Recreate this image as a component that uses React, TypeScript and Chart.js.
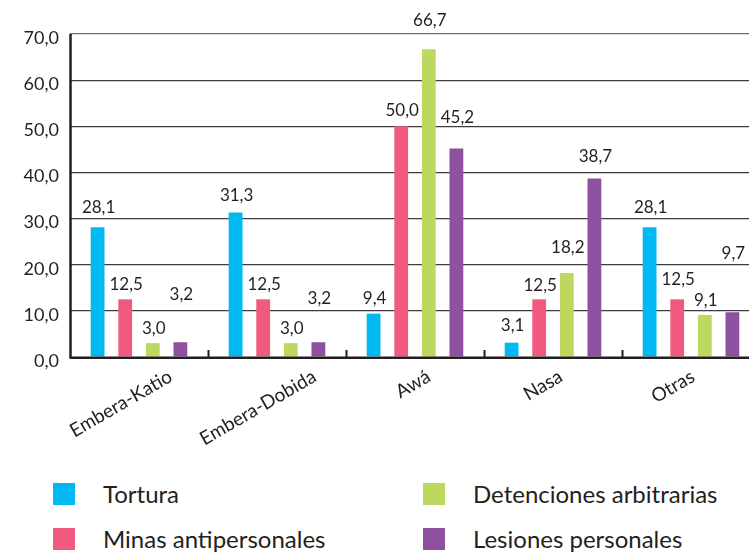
import React, { useEffect, useRef } from "react";
import { Chart, registerables } from "chart.js";

Chart.register(...registerables);

const categories = ["Embera-Katio", "Embera-Dobida", "Awá", "Nasa", "Otras"];
const tortura = [28.1, 31.3, 9.4, 3.1, 28.1];
const minas = [12.5, 12.5, 50.0, 12.5, 12.5];
const detenciones = [3.0, 3.0, 66.7, 18.2, 9.1];
const lesiones = [3.2, 3.2, 45.2, 38.7, 9.7];
const seriesNames = ["Tortura", "Minas antipersonales", "Detenciones arbitrarias", "Lesiones personales"];
const seriesColors = ["#00b9f1", "#f05a7e", "#bdd85f", "#8d519f"];
const yMin = 0;
const yMax = 70;
const yStep = 10;

// label placement tweaks (pixels), kept apart from the data
const LABEL_LIFT = [
  [5, 3, 1, 3, 5],
  [0, 0, 1, -1, 5],
  [0, 0, 14, 11, 0],
  [33, 29, 16, 7, 44],
];
const X_LABEL_SHIFT = [-18, -19, -2, -10, -18];

const TEXT = "#231f20";
const FONT = "Lato, 'Open Sans', sans-serif";

const fmt = (v: number) => v.toFixed(1).replace(".", ",");

const decorPlugin = {
  id: "decor",
  afterDatasetsDraw(chart: any) {
    const { ctx, chartArea } = chart;
    const { left, right, top, bottom } = chartArea;
    ctx.save();
    // data labels
    ctx.fillStyle = TEXT;
    ctx.font = `17px ${FONT}`;
    ctx.textAlign = "center";
    ctx.textBaseline = "alphabetic";
    chart.data.datasets.forEach((ds: any, di: number) => {
      const meta = chart.getDatasetMeta(di);
      meta.data.forEach((bar: any, i: number) => {
        const lift = (LABEL_LIFT[di] && LABEL_LIFT[di][i]) || 0;
        ctx.fillText(fmt(ds.data[i]), bar.x + 1, bar.y - 9 - lift);
      });
    });
    // axes
    ctx.strokeStyle = TEXT;
    ctx.lineWidth = 2.5;
    ctx.beginPath();
    ctx.moveTo(left + 0.5, top);
    ctx.lineTo(left + 0.5, bottom + 1.5);
    ctx.moveTo(left, bottom + 0.8);
    ctx.lineTo(right, bottom + 0.8);
    ctx.stroke();
    // category boundary marks
    const n = categories.length;
    const cw = (right - left) / n;
    ctx.lineWidth = 2;
    ctx.beginPath();
    for (let i = 1; i <= n; i++) {
      const x = Math.round(left + i * cw) + 0.5;
      ctx.moveTo(x, bottom);
      ctx.lineTo(x, bottom - 7);
    }
    ctx.stroke();
    // category labels, rotated
    ctx.font = `19px ${FONT}`;
    ctx.textAlign = "center";
    ctx.textBaseline = "middle";
    const ang = (30 * Math.PI) / 180;
    categories.forEach((c, i) => {
      const L = ctx.measureText(c).width;
      const cx = left + (i + 0.5) * cw + (X_LABEL_SHIFT[i] || 0);
      const cy = bottom + 12 + (L / 2) * Math.sin(ang) + 7 * Math.cos(ang);
      ctx.save();
      ctx.translate(cx, cy);
      ctx.rotate(-ang);
      ctx.fillText(c, 0, 0);
      ctx.restore();
    });
    ctx.restore();
  },
};

function ChartView() {
  const ref = useRef<HTMLCanvasElement | null>(null);
  useEffect(() => {
    if (!ref.current) return;
    const series = [tortura, minas, detenciones, lesiones];
    const chart = new Chart(ref.current, {
      type: "bar",
      data: {
        labels: categories,
        datasets: series.map((d, i) => ({
          label: seriesNames[i],
          data: d,
          backgroundColor: seriesColors[i],
          borderWidth: 0,
          categoryPercentage: 0.8,
          barPercentage: 0.5,
        })),
      },
      options: {
        animation: false,
        responsive: false,
        maintainAspectRatio: false,
        layout: { padding: { top: 34, left: 0, right: 0, bottom: 0 } },
        plugins: {
          legend: { display: false },
          tooltip: { enabled: false },
          title: { display: false },
        },
        scales: {
          x: {
            grid: { display: false },
            border: { display: false },
            ticks: { display: false },
            afterFit: (s: any) => {
              s.height = 113;
            },
          },
          y: {
            min: yMin,
            max: yMax,
            ticks: {
              stepSize: yStep,
              callback: (v: any) => fmt(Number(v)),
              color: TEXT,
              font: { family: FONT, size: 18 },
              padding: 11,
              labelOffset: 4,
            },
            grid: {
              drawTicks: false,
              lineWidth: 1.2,
              color: (c: any) =>
                c.tick && c.tick.value === 0 ? "rgba(0,0,0,0)" : c.tick && c.tick.value === yMax ? "#6f6f6f" : "#3d3d3d",
            },
            border: { display: false },
            afterFit: (s: any) => {
              s.width = 70;
            },
          },
        },
      },
      plugins: [decorPlugin],
    });
    return () => chart.destroy();
  }, []);
  return <canvas ref={ref} width={760} height={470} style={{ display: "block", width: 760, height: 470 }} />;
}

export default function App() {
  const items = [
    { i: 0, x: 53, y: 483 },
    { i: 1, x: 53, y: 528 },
    { i: 2, x: 423, y: 483 },
    { i: 3, x: 423, y: 528 },
  ];
  return (
    <div
      style={{
        position: "absolute",
        left: 0,
        top: 0,
        width: 749,
        height: 552,
        overflow: "hidden",
        background: "#ffffff",
      }}
    >
      <ChartView />
      {items.map((it) => (
        <div
          key={it.i}
          style={{
            position: "absolute",
            left: it.x,
            top: it.y,
            height: 22,
            display: "flex",
            alignItems: "center",
            whiteSpace: "nowrap",
          }}
        >
          <span style={{ display: "inline-block", width: 22, height: 22, background: seriesColors[it.i] }} />
          <span
            style={{
              marginLeft: 28,
              fontFamily: FONT,
              fontSize: 24,
              color: TEXT,
              lineHeight: "22px",
            }}
          >
            {seriesNames[it.i]}
          </span>
        </div>
      ))}
    </div>
  );
}
